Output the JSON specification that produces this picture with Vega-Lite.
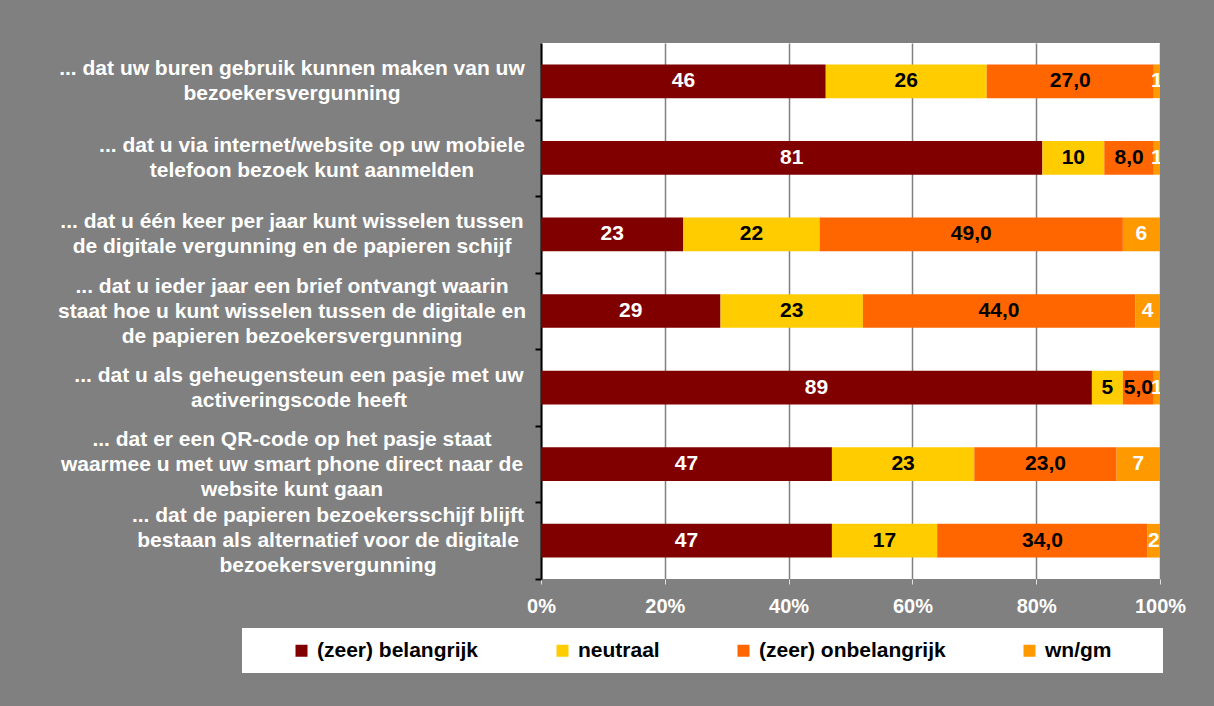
{
  "$schema": "https://vega.github.io/schema/vega-lite/v6.json",
  "width": 619,
  "height": 536,
  "autosize": {"type": "none"},
  "padding": {"left": 541, "top": 43, "right": 54, "bottom": 127},
  "background": "#808080",
  "config": {"view": {"stroke": null, "fill": "white"}, "font": "Liberation Sans"},
  "data": {
    "values": [
      {"q": "... dat uw buren gebruik kunnen maken van uw|bezoekersvergunning", "qi": 1, "cat": "(zeer) belangrijk", "ci": 1, "value": 46, "label": "46"},
      {"q": "... dat uw buren gebruik kunnen maken van uw|bezoekersvergunning", "qi": 1, "cat": "neutraal", "ci": 2, "value": 26, "label": "26"},
      {"q": "... dat uw buren gebruik kunnen maken van uw|bezoekersvergunning", "qi": 1, "cat": "(zeer) onbelangrijk", "ci": 3, "value": 27, "label": "27,0"},
      {"q": "... dat uw buren gebruik kunnen maken van uw|bezoekersvergunning", "qi": 1, "cat": "wn/gm", "ci": 4, "value": 1, "label": "1"},
      {"q": "... dat u via internet/website op uw mobiele|telefoon bezoek kunt aanmelden", "qi": 2, "cat": "(zeer) belangrijk", "ci": 1, "value": 81, "label": "81"},
      {"q": "... dat u via internet/website op uw mobiele|telefoon bezoek kunt aanmelden", "qi": 2, "cat": "neutraal", "ci": 2, "value": 10, "label": "10"},
      {"q": "... dat u via internet/website op uw mobiele|telefoon bezoek kunt aanmelden", "qi": 2, "cat": "(zeer) onbelangrijk", "ci": 3, "value": 8, "label": "8,0"},
      {"q": "... dat u via internet/website op uw mobiele|telefoon bezoek kunt aanmelden", "qi": 2, "cat": "wn/gm", "ci": 4, "value": 1, "label": "1"},
      {"q": "... dat u één keer per jaar kunt wisselen tussen|de digitale vergunning en de papieren schijf", "qi": 3, "cat": "(zeer) belangrijk", "ci": 1, "value": 23, "label": "23"},
      {"q": "... dat u één keer per jaar kunt wisselen tussen|de digitale vergunning en de papieren schijf", "qi": 3, "cat": "neutraal", "ci": 2, "value": 22, "label": "22"},
      {"q": "... dat u één keer per jaar kunt wisselen tussen|de digitale vergunning en de papieren schijf", "qi": 3, "cat": "(zeer) onbelangrijk", "ci": 3, "value": 49, "label": "49,0"},
      {"q": "... dat u één keer per jaar kunt wisselen tussen|de digitale vergunning en de papieren schijf", "qi": 3, "cat": "wn/gm", "ci": 4, "value": 6, "label": "6"},
      {"q": "... dat u ieder jaar een brief ontvangt waarin|staat hoe u kunt wisselen tussen de digitale en|de papieren bezoekersvergunning", "qi": 4, "cat": "(zeer) belangrijk", "ci": 1, "value": 29, "label": "29"},
      {"q": "... dat u ieder jaar een brief ontvangt waarin|staat hoe u kunt wisselen tussen de digitale en|de papieren bezoekersvergunning", "qi": 4, "cat": "neutraal", "ci": 2, "value": 23, "label": "23"},
      {"q": "... dat u ieder jaar een brief ontvangt waarin|staat hoe u kunt wisselen tussen de digitale en|de papieren bezoekersvergunning", "qi": 4, "cat": "(zeer) onbelangrijk", "ci": 3, "value": 44, "label": "44,0"},
      {"q": "... dat u ieder jaar een brief ontvangt waarin|staat hoe u kunt wisselen tussen de digitale en|de papieren bezoekersvergunning", "qi": 4, "cat": "wn/gm", "ci": 4, "value": 4, "label": "4"},
      {"q": "... dat u als geheugensteun een pasje met uw|activeringscode heeft", "qi": 5, "cat": "(zeer) belangrijk", "ci": 1, "value": 89, "label": "89"},
      {"q": "... dat u als geheugensteun een pasje met uw|activeringscode heeft", "qi": 5, "cat": "neutraal", "ci": 2, "value": 5, "label": "5"},
      {"q": "... dat u als geheugensteun een pasje met uw|activeringscode heeft", "qi": 5, "cat": "(zeer) onbelangrijk", "ci": 3, "value": 5, "label": "5,0"},
      {"q": "... dat u als geheugensteun een pasje met uw|activeringscode heeft", "qi": 5, "cat": "wn/gm", "ci": 4, "value": 1, "label": "1"},
      {"q": "... dat er een QR-code op het pasje staat|waarmee u met uw smart phone direct naar de|website kunt gaan", "qi": 6, "cat": "(zeer) belangrijk", "ci": 1, "value": 47, "label": "47"},
      {"q": "... dat er een QR-code op het pasje staat|waarmee u met uw smart phone direct naar de|website kunt gaan", "qi": 6, "cat": "neutraal", "ci": 2, "value": 23, "label": "23"},
      {"q": "... dat er een QR-code op het pasje staat|waarmee u met uw smart phone direct naar de|website kunt gaan", "qi": 6, "cat": "(zeer) onbelangrijk", "ci": 3, "value": 23, "label": "23,0"},
      {"q": "... dat er een QR-code op het pasje staat|waarmee u met uw smart phone direct naar de|website kunt gaan", "qi": 6, "cat": "wn/gm", "ci": 4, "value": 7, "label": "7"},
      {"q": "... dat de papieren bezoekersschijf blijft|bestaan als alternatief voor de digitale|bezoekersvergunning", "qi": 7, "cat": "(zeer) belangrijk", "ci": 1, "value": 47, "label": "47"},
      {"q": "... dat de papieren bezoekersschijf blijft|bestaan als alternatief voor de digitale|bezoekersvergunning", "qi": 7, "cat": "neutraal", "ci": 2, "value": 17, "label": "17"},
      {"q": "... dat de papieren bezoekersschijf blijft|bestaan als alternatief voor de digitale|bezoekersvergunning", "qi": 7, "cat": "(zeer) onbelangrijk", "ci": 3, "value": 34, "label": "34,0"},
      {"q": "... dat de papieren bezoekersschijf blijft|bestaan als alternatief voor de digitale|bezoekersvergunning", "qi": 7, "cat": "wn/gm", "ci": 4, "value": 2, "label": "2"}
    ]
  },
  "encoding": {
    "y": {
      "field": "q",
      "type": "nominal",
      "sort": {"field": "qi", "op": "min"},
      "scale": {"paddingInner": 0.56, "paddingOuter": 0.28},
      "axis": {
        "title": null,
        "domainColor": "black",
        "domainWidth": 2,
        "tickColor": "black",
        "tickWidth": 2,
        "tickSize": 6,
        "tickOffset": 38.29,
        "labelOffset": -38.29,
        "labelColor": "white",
        "labelFont": "Liberation Sans",
        "labelFontWeight": "bold",
        "labelFontSize": 21,
        "labelLineHeight": 25,
        "labelAlign": "center",
        "labelBaseline": "middle",
        "labelPadding": 243.5,
        "labelLimit": 1000,
        "labelOverlap": false,
        "labelExpr": "split(datum.label, '|')",
        "encoding": {
          "labels": {
            "dx": {"value": {"expr": "indexof(datum.value,'mobiele')>=0 ? 20 : indexof(datum.value,'bezoekersschijf')>=0 ? 36 : indexof(datum.value,'geheugensteun')>=0 ? 7 : 0"}},
            "dy": {"value": {"expr": "-(length(split(datum.value,'|'))-1)*12.5"}}
          }
        }
      }
    },
    "x": {
      "field": "value",
      "type": "quantitative",
      "stack": "zero",
      "scale": {"domain": [0, 100]},
      "axis": {
        "title": null,
        "values": [0, 20, 40, 60, 80, 100],
        "labelExpr": "datum.value + '%'",
        "grid": true,
        "gridColor": "#808080",
        "gridWidth": 1.5,
        "domain": false,
        "tickColor": "#e0e0e0",
        "tickSize": 5,
        "labelColor": "white",
        "labelFont": "Liberation Sans",
        "labelFontSize": 20,
        "labelFontWeight": "bold",
        "labelPadding": 12,
        "labelFlush": false
      }
    },
    "order": {"field": "ci"}
  },
  "layer": [
    {
      "mark": {"type": "bar"},
      "encoding": {
        "color": {
          "field": "cat",
          "type": "nominal",
          "scale": {
            "domain": ["(zeer) belangrijk", "neutraal", "(zeer) onbelangrijk", "wn/gm"],
            "range": ["#800000", "#FFCC00", "#FF6600", "#FF9900"]
          },
          "legend": {
            "orient": "none",
            "legendX": -299,
            "legendY": 585,
            "direction": "horizontal",
            "fillColor": "white",
            "padding": 12,
            "title": "\u00a0",
            "titleOrient": "right",
            "titlePadding": 40,
            "symbolType": "square",
            "symbolSize": 144,
            "symbolStrokeWidth": 0,
            "symbolOffset": 37,
            "labelOffset": 5,
            "labelFont": "Liberation Sans",
            "labelFontSize": 21,
            "labelFontWeight": "bold",
            "labelColor": "black",
            "columnPadding": 36,
            "labelLimit": 400
          }
        }
      }
    },
    {
      "mark": {"type": "text", "font": "Liberation Sans", "fontWeight": "bold", "fontSize": 21, "clip": true},
      "encoding": {
        "x": {"field": "value", "type": "quantitative", "stack": "zero", "bandPosition": 0.5},
        "detail": {"field": "cat"},
        "text": {"field": "label"},
        "color": {
          "condition": {"test": "datum.cat == '(zeer) belangrijk' || datum.cat == 'wn/gm'", "value": "white"},
          "value": "black"
        }
      }
    }
  ]
}
